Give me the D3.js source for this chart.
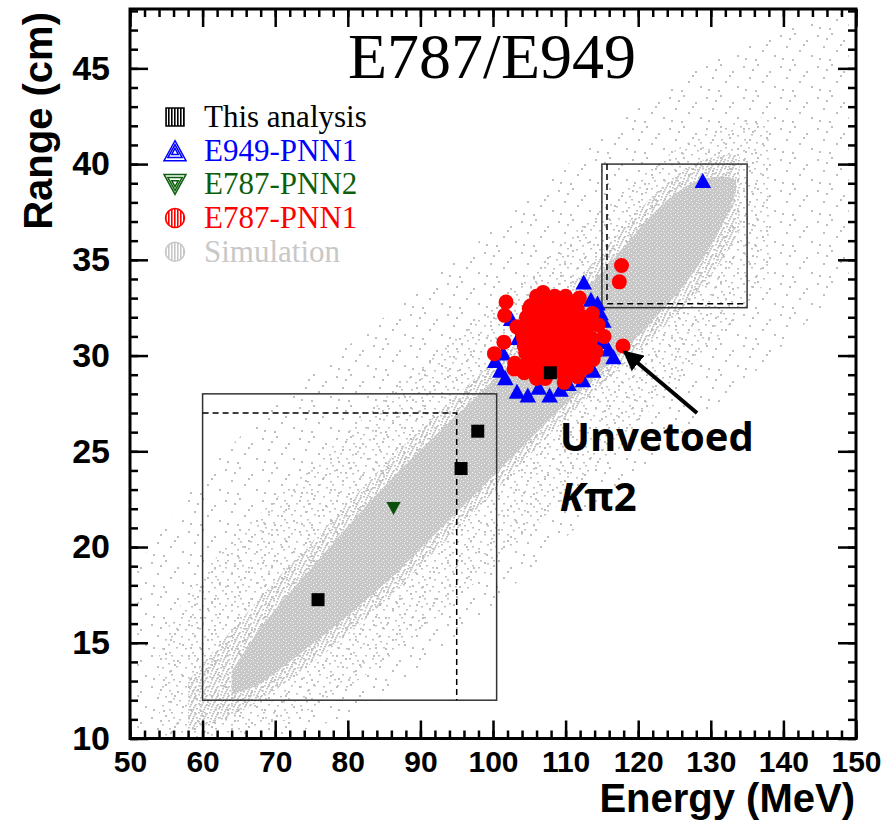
<!DOCTYPE html>
<html>
<head>
<meta charset="utf-8">
<script src="https://cdn.jsdelivr.net/npm/d3@7"></script>
<style>
  body { margin: 0; background: #fff; }
  svg { display: block; }
</style>
</head>
<body>
<svg id="chart"></svg>
<script>
// axis ticks
const xTicks = [50, 60, 70, 80, 90, 100, 110, 120, 130, 140, 150];
const yTicks = [10, 15, 20, 25, 30, 35, 40, 45];

// signal boxes (energy / range limits)
const boxSolid = [[60, 100.5, 12, 28], [115, 135, 32.5, 40]];
const boxDashed = [[60, 95, 12, 27], [115.7, 135, 32.7, 40]];

// events
const thisAnalysis = [[75.9, 17.25], [95.6, 24.1], [97.9, 26.05], [107.9, 29.1]];
const e787pnn2 = [[86.3, 22.05]];
const e949pnn1 = [
  [128.9, 39.1], [112.5, 33.8], [114.4, 32.7], [113.5, 32.9], [102.5, 31.9], [115.2, 31.8],
  [114.8, 32.2], [116.6, 29.9], [115.9, 30.3], [115.0, 30.7], [100.3, 29.7], [101.4, 30.1],
  [101.0, 29.2], [101.7, 28.8], [103.3, 28.1], [104.8, 27.9], [106.3, 28.3], [107.8, 27.9],
  [109.3, 28.2], [110.4, 28.5], [112.4, 28.7], [113.8, 29.2], [103.5, 30.9]
];
const e787pnn1 = [
  [117.7, 34.7], [117.4, 33.85], [117.9, 30.5],
  [101.8, 32.8], [101.6, 32.1], [103.3, 31.5], [101.5, 30.7], [100.2, 30.1], [106.9, 33.3],
  [111.9, 33.0], [113.7, 32.2], [115.3, 31.0], [111.6, 28.9], [112.9, 29.4], [102.9, 29.3],
  [104.3, 29.1], [114.2, 30.2], [114.5, 31.6], [103.0, 29.6], [104.0, 29.4],
  [105.2, 32.6], [106.5, 32.8], [107.8, 32.9], [109.2, 32.7], [110.4, 32.8], [111.2, 32.3], [112.5, 32.0],
  [104.6, 32.0], [105.8, 31.9], [107.2, 32.1], [108.6, 32.2], [110.0, 32.0], [111.5, 31.6], [112.8, 31.3],
  [104.0, 31.2], [105.3, 31.3], [106.6, 31.2], [108.0, 31.4], [109.4, 31.3], [110.8, 31.1], [112.2, 30.8],
  [113.4, 30.5], [104.3, 30.5], [105.6, 30.6], [107.0, 30.7], [108.4, 30.6], [109.8, 30.5], [111.1, 30.4],
  [112.6, 30.0], [113.8, 29.8], [104.9, 29.8], [106.2, 29.9], [107.5, 30.0], [108.9, 29.9], [110.2, 29.8],
  [111.5, 29.6], [112.0, 29.2], [105.5, 29.2], [106.8, 29.3], [109.5, 29.1], [110.6, 29.0], [106.0, 28.8],
  [109.8, 28.6], [107.2, 28.8],
  [105.0, 32.45], [106.3, 32.45], [107.6, 32.45], [108.9, 32.45], [110.2, 32.45], [111.6, 32.45],
  [104.5, 31.65], [105.9, 31.65], [107.3, 31.65], [108.7, 31.65], [110.1, 31.65], [111.5, 31.65], [112.9, 31.65],
  [104.2, 30.9], [105.5, 30.9], [106.9, 30.9], [108.3, 30.9], [109.7, 30.9], [111.0, 30.9], [112.4, 30.9], [113.6, 30.9],
  [104.5, 30.15], [105.9, 30.15], [107.3, 30.15], [108.6, 30.15], [110.0, 30.15], [111.4, 30.15], [112.8, 30.15],
  [105.0, 29.45], [106.3, 29.45], [107.7, 29.45], [109.0, 29.45], [110.4, 29.45], [111.3, 29.45],
  [106.0, 33.1], [108.5, 33.1], [110.0, 33.1]
];

// simulation cloud: energy, range low, range high for four density levels
const simHalo = [
  [51, 10, 19], [60, 10, 24], [70, 10, 27.5], [80, 11, 30.5], [90, 13.5, 33.5], [100, 17, 36.5],
  [110, 20.5, 40], [120, 24, 43], [130, 27, 45.5], [140, 30.5, 47], [149, 34, 48]
];
const simOuter = [
  [54, 10, 15], [60, 10, 19], [70, 10.5, 22.5], [80, 12.5, 26], [90, 15.5, 29.5], [100, 19, 32.5],
  [110, 22.5, 36], [120, 26.5, 39.5], [130, 30.5, 42], [138, 34, 42.5]
];
const simMid = [
  [58, 10.5, 13], [62, 10.8, 14.8], [66, 11.5, 16.5], [70, 12.5, 18.3], [75, 13.9, 20.2],
  [80, 15.4, 22.3], [85, 17.1, 24.3], [90, 19.0, 26.2], [95, 20.9, 27.9], [100, 22.8, 29.7],
  [105, 24.8, 31.5], [110, 26.7, 33.4], [115, 28.5, 35.3], [120, 30.2, 37.6], [125, 32.0, 39.5],
  [130, 34.0, 40.5], [134, 36.5, 40.5]
];
const simCore = [
  [64, 12.3, 13.5], [67, 12.6, 15.3], [70, 13.4, 16.8], [75, 14.9, 18.9], [80, 16.4, 21.1],
  [85, 18.0, 23.2], [90, 19.9, 25.1], [95, 21.8, 26.9], [100, 23.7, 28.7], [105, 25.6, 30.5],
  [110, 27.5, 32.4], [115, 29.2, 34.3], [120, 31.0, 36.6], [125, 33.0, 38.6], [129, 35.0, 39.3],
  [132, 37.0, 39.4], [133.5, 38.6, 39.2]
];

const legendItems = [
  { label: 'This analysis', color: '#000000', shape: 'square' },
  { label: 'E949-PNN1', color: '#0000ff', shape: 'up' },
  { label: 'E787-PNN2', color: '#0b5e0b', shape: 'down' },
  { label: 'E787-PNN1', color: '#ff0000', shape: 'circle' },
  { label: 'Simulation', color: '#c8c8c8', shape: 'circle' }
];

const width = 887, height = 828;
const svg = d3.select('#chart').attr('width', width).attr('height', height);

const x = d3.scaleLinear().domain([50, 150]).range([130, 856]);
const y = d3.scaleLinear().domain([10, 48.1]).range([738.5, 9]);

const defs = svg.append('defs');

// dot textures for the simulated cloud
function dots(id, w, h, pts, size, color, bg) {
  const p = defs.append('pattern').attr('id', id)
    .attr('patternUnits', 'userSpaceOnUse').attr('width', w).attr('height', h);
  if (bg) p.append('rect').attr('width', w).attr('height', h).attr('fill', bg);
  pts.forEach(d => p.append('rect').attr('x', d[0]).attr('y', d[1])
    .attr('width', size[0]).attr('height', size[1]).attr('fill', color));
}
dots('halo', 37, 31, [[3, 4], [17, 2], [29, 9], [9, 15], [22, 19], [34, 24], [5, 27], [15, 28], [26, 13], [12, 7]], [2, 2], '#bebebe');
dots('outer', 23, 19, [[1, 2], [8, 6], [15, 1], [20, 9], [4, 12], [12, 14], [18, 16], [7, 17], [10, 9]], [2, 1.5], '#c0c0c0');
dots('mid', 11, 9, [[0, 1], [4, 0], [8, 2], [2, 4], [6, 5], [9, 6], [1, 7], [5, 7], [7, 3], [3, 2]], [2, 1.5], '#c4c4c4');
dots('core', 7, 6, [[1, 1], [5, 2], [3, 4], [6, 5]], [1, 1], '#f4f4f4', '#c8c8c8');

function hatch(id, color) {
  const p = defs.append('pattern').attr('id', id)
    .attr('patternUnits', 'userSpaceOnUse').attr('width', 3).attr('height', 3);
  p.append('rect').attr('width', 3).attr('height', 3).attr('fill', '#fff');
  p.append('rect').attr('width', 1.6).attr('height', 3).attr('fill', color);
}
legendItems.forEach((d, i) => hatch('hatch' + i, d.color));

// simulation
const band = d3.area().x(d => x(d[0])).y0(d => y(d[1])).y1(d => y(d[2])).curve(d3.curveBasis);
const plot = svg.append('g');
[[simHalo, 'halo'], [simOuter, 'outer'], [simMid, 'mid'], [simCore, 'core']].forEach(([data, id]) =>
  plot.append('path').datum(data).attr('d', band).attr('fill', `url(#${id})`));

// boxes
plot.selectAll('.box').data(boxSolid).enter().append('rect')
  .attr('x', d => x(d[0])).attr('y', d => y(d[3]))
  .attr('width', d => x(d[1]) - x(d[0])).attr('height', d => y(d[2]) - y(d[3]))
  .attr('fill', 'none').attr('stroke', '#333').attr('stroke-width', 1.5);
plot.selectAll('.dbox').data(boxDashed).enter().append('path')
  .attr('d', (d, i) => i === 0
    ? `M${x(d[0])},${y(d[3])}H${x(d[1])}V${y(d[2])}`
    : `M${x(d[0])},${y(d[3])}V${y(d[2])}H${x(d[1])}`)
  .attr('fill', 'none').attr('stroke', '#000').attr('stroke-width', 1.5).attr('stroke-dasharray', '6,4');

// markers
const tri = (s, up) => up
  ? `M0,${-s * 0.55}L${s * 0.55},${s * 0.45}L${-s * 0.55},${s * 0.45}Z`
  : `M0,${s * 0.55}L${s * 0.55},${-s * 0.45}L${-s * 0.55},${-s * 0.45}Z`;

plot.selectAll('.pnn1b').data(e949pnn1).enter().append('path')
  .attr('d', tri(15, true)).attr('fill', '#0000ff')
  .attr('transform', d => `translate(${x(d[0])},${y(d[1])})`);
plot.selectAll('.pnn1r').data(e787pnn1).enter().append('circle')
  .attr('cx', d => x(d[0])).attr('cy', d => y(d[1])).attr('r', 7.5).attr('fill', '#ff0000');
plot.selectAll('.ana').data(thisAnalysis).enter().append('rect')
  .attr('x', d => x(d[0]) - 6.5).attr('y', d => y(d[1]) - 6.5)
  .attr('width', 13).attr('height', 13).attr('fill', '#000');
plot.selectAll('.pnn2').data(e787pnn2).enter().append('path')
  .attr('d', tri(13, false)).attr('fill', '#0a4f0a')
  .attr('transform', d => `translate(${x(d[0])},${y(d[1])})`);

// axes
function styleAxis(g, size) {
  g.select('.domain').remove();
  g.selectAll('line').attr('stroke', '#000').attr('stroke-width', 2.5);
  g.selectAll('text').attr('fill', '#000')
    .style('font-family', 'Liberation Sans, Arial, sans-serif')
    .style('font-weight', 'bold').style('font-size', (size || 34) + 'px');
}
const xMinor = d3.range(50, 151, 2);
const yMinor = d3.range(10, 48.5, 1);

svg.append('g').attr('transform', `translate(0,${y(10)})`)
  .call(d3.axisBottom(x).tickValues(xMinor).tickSize(-8).tickFormat('')).call(styleAxis);
svg.append('g').attr('transform', `translate(0,${y(10)})`)
  .call(d3.axisBottom(x).tickValues(xTicks).tickSize(-18).tickPadding(12)).call(styleAxis, 30);
svg.append('g').attr('transform', `translate(0,${y(48.1)})`)
  .call(d3.axisTop(x).tickValues(xMinor).tickSize(-8).tickFormat('')).call(styleAxis);
svg.append('g').attr('transform', `translate(0,${y(48.1)})`)
  .call(d3.axisTop(x).tickValues(xTicks).tickSize(-18).tickFormat('')).call(styleAxis);

svg.append('g').attr('transform', `translate(${x(50)},0)`)
  .call(d3.axisLeft(y).tickValues(yMinor).tickSize(-8).tickFormat('')).call(styleAxis);
svg.append('g').attr('transform', `translate(${x(50)},0)`)
  .call(d3.axisLeft(y).tickValues(yTicks).tickSize(-18).tickPadding(20)).call(styleAxis);
svg.append('g').attr('transform', `translate(${x(150)},0)`)
  .call(d3.axisRight(y).tickValues(yMinor).tickSize(-8).tickFormat('')).call(styleAxis);
svg.append('g').attr('transform', `translate(${x(150)},0)`)
  .call(d3.axisRight(y).tickValues(yTicks).tickSize(-18).tickFormat('')).call(styleAxis);

svg.append('rect').attr('x', x(50)).attr('y', y(48.1))
  .attr('width', x(150) - x(50)).attr('height', y(10) - y(48.1))
  .attr('fill', 'none').attr('stroke', '#000').attr('stroke-width', 3);

// axis titles
svg.append('text').attr('x', 855).attr('y', 812).attr('text-anchor', 'end')
  .style('font-family', 'Liberation Sans, Arial, sans-serif').style('font-weight', 'bold')
  .style('font-size', '40px').text('Energy (MeV)');
svg.append('text').attr('transform', 'translate(52,12) rotate(-90)').attr('text-anchor', 'end')
  .style('font-family', 'Liberation Sans, Arial, sans-serif').style('font-weight', 'bold')
  .style('font-size', '40px').text('Range (cm)');

// title
svg.append('text').attr('x', 492).attr('y', 78).attr('text-anchor', 'middle')
  .style('font-family', 'Liberation Serif, Times New Roman, serif')
  .style('font-size', '64px').text('E787/E949');

// legend
const leg = svg.append('g');
legendItems.forEach((d, i) => {
  const cy = 117 + i * 33.7;
  const fill = `url(#hatch${i})`;
  if (d.shape === 'square') {
    leg.append('rect').attr('x', 166).attr('y', cy - 9).attr('width', 18).attr('height', 18)
      .attr('fill', fill).attr('stroke', d.color).attr('stroke-width', 1.5);
  } else if (d.shape === 'circle') {
    leg.append('circle').attr('cx', 175).attr('cy', cy).attr('r', 9.5)
      .attr('fill', fill).attr('stroke', d.color).attr('stroke-width', 1.5);
  } else {
    const up = d.shape === 'up';
    [20, 13, 6].forEach(s => leg.append('path').attr('d', tri(s, up))
      .attr('transform', `translate(175,${cy + (up ? 1 : -1)})`)
      .attr('fill', 'none').attr('stroke', d.color).attr('stroke-width', 1.5));
  }
  leg.append('text').attr('x', 204).attr('y', cy + 10).attr('fill', d.color)
    .style('font-family', 'Liberation Serif, Times New Roman, serif')
    .style('font-size', '31px').text(d.label);
});

// annotation
defs.append('marker').attr('id', 'arrow').attr('viewBox', '0 0 10 10')
  .attr('refX', 9).attr('refY', 5).attr('markerWidth', 5).attr('markerHeight', 5)
  .attr('orient', 'auto').attr('markerUnits', 'strokeWidth')
  .append('path').attr('d', 'M0,0L10,5L0,10Z').attr('fill', '#000');
svg.append('line').attr('x1', x(128.1)).attr('y1', y(27.0)).attr('x2', x(118.1)).attr('y2', y(30.2))
  .attr('stroke', '#000').attr('stroke-width', 4).attr('marker-end', 'url(#arrow)');
svg.append('text').attr('x', x(109.2)).attr('y', y(25.0))
  .style('font-family', 'Open Sans, sans-serif').style('font-weight', 'bold').style('font-size', '40px')
  .text('Unvetoed');
const kp = svg.append('text').attr('x', x(109.2)).attr('y', y(21.9))
  .style('font-family', 'Open Sans, sans-serif').style('font-weight', 'bold').style('font-size', '40px');
kp.append('tspan').style('font-style', 'italic').text('K');
kp.append('tspan').text('π2');
</script>
</body>
</html>
